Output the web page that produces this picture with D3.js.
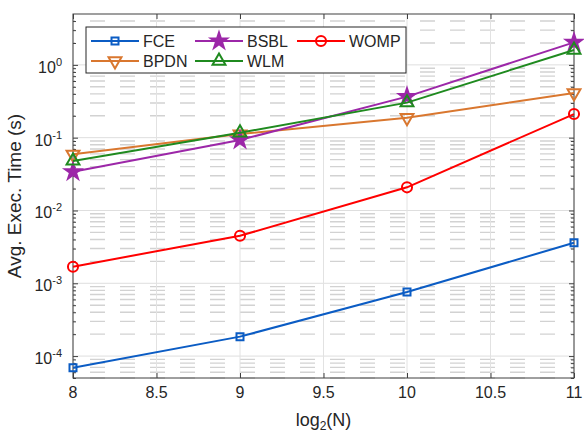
<!DOCTYPE html>
<html>
<head>
<meta charset="utf-8">
<script src="https://cdn.jsdelivr.net/npm/d3@7"></script>
<style>
  body { margin: 0; background: #fff; }
  text { font-family: "Liberation Sans", Arial, sans-serif; fill: #262626; }
</style>
</head>
<body>
<div id="chart"></div>
<script>
var logN   = [8, 9, 10, 11];
var fce    = [6.9e-5, 1.85e-4, 7.6e-4, 3.6e-3];
var bpdn   = [0.059, 0.112, 0.188, 0.41];
var bsbl   = [0.034, 0.093, 0.366, 2.04];
var wlm    = [0.048, 0.117, 0.303, 1.6];
var womp   = [1.69e-3, 4.5e-3, 0.0208, 0.211];
var xTicks = [8, 8.5, 9, 9.5, 10, 10.5, 11];
var yExps  = [-4, -3, -2, -1, 0];

var margin = {top: 14, right: 10, bottom: 57, left: 73},
    width = 584 - margin.left - margin.right,
    height = 435 - margin.top - margin.bottom;

var svg = d3.select("#chart").append("svg")
    .attr("width", 584)
    .attr("height", 435);

var g = svg.append("g")
    .attr("transform", "translate(" + margin.left + "," + margin.top + ")");

var x = d3.scaleLinear().domain([8, 11]).range([0, width]),
    y = d3.scaleLog().domain([5e-5, 5]).range([height, 0]);

// minor values 2..9 x decade inside the domain
var minors = [];
[-5, -4, -3, -2, -1, 0].forEach(function(e) {
  for (var k = 2; k <= 9; k++) {
    var v = k * Math.pow(10, e);
    if (v > 5e-5 && v < 5) minors.push(v);
  }
});
minors.push(5e-5);
var majors = yExps.map(function(e) { return Math.pow(10, e); });

// grid
g.append("g").selectAll("line")
    .data(minors)
    .enter().append("line")
      .attr("x1", 0).attr("x2", width)
      .attr("y1", function(d) { return y(d); })
      .attr("y2", function(d) { return y(d); })
      .attr("stroke", "#d2d2d2")
      .attr("stroke-width", 1.4)
      .attr("stroke-dasharray", "15,15")
      .attr("stroke-dashoffset", -17);

g.append("g").selectAll("line")
    .data(majors)
    .enter().append("line")
      .attr("x1", 0).attr("x2", width)
      .attr("y1", function(d) { return y(d); })
      .attr("y2", function(d) { return y(d); })
      .attr("stroke", "#dedede")
      .attr("stroke-width", 1);

g.append("g").selectAll("line")
    .data(xTicks)
    .enter().append("line")
      .attr("y1", 0).attr("y2", height)
      .attr("x1", function(d) { return x(d); })
      .attr("x2", function(d) { return x(d); })
      .attr("stroke", "#e2e2e2")
      .attr("stroke-width", 1);

// axes (ticks inside, box on)
function styleAxis(sel) {
  sel.selectAll(".domain").remove();
  sel.selectAll("line").attr("stroke", "#404040");
  sel.selectAll("text").remove();
}

g.append("g").attr("transform", "translate(0," + height + ")")
    .call(d3.axisBottom(x).tickValues(xTicks).tickSize(-5)).call(styleAxis);
g.append("g")
    .call(d3.axisTop(x).tickValues(xTicks).tickSize(-5)).call(styleAxis);
g.append("g")
    .call(d3.axisLeft(y).tickValues(majors).tickSize(-5)).call(styleAxis);
g.append("g")
    .call(d3.axisLeft(y).tickValues(minors).tickSize(-3)).call(styleAxis);
g.append("g").attr("transform", "translate(" + width + ",0)")
    .call(d3.axisRight(y).tickValues(majors).tickSize(-5)).call(styleAxis);
g.append("g").attr("transform", "translate(" + width + ",0)")
    .call(d3.axisRight(y).tickValues(minors).tickSize(-3)).call(styleAxis);

g.append("rect")
    .attr("width", width).attr("height", height)
    .attr("fill", "none")
    .attr("stroke", "#404040")
    .attr("stroke-width", 1);

// tick labels
g.append("g").selectAll("text")
    .data(xTicks)
    .enter().append("text")
      .attr("x", function(d) { return x(d); })
      .attr("y", height + 20)
      .attr("text-anchor", "middle")
      .attr("font-size", "16px")
      .text(function(d) { return d; });

var yl = g.append("g").selectAll("text")
    .data(yExps)
    .enter().append("text")
      .attr("x", -11)
      .attr("y", function(d) { return y(Math.pow(10, d)) + 8; })
      .attr("text-anchor", "end")
      .attr("font-size", "16px");
yl.append("tspan").text("10");
yl.append("tspan")
    .attr("dy", -7)
    .attr("font-size", "11px")
    .text(function(d) { return d === 0 ? "0" : "-" + Math.abs(d); });

// axis labels
var xl = svg.append("text")
    .attr("x", margin.left + width / 2)
    .attr("y", 426)
    .attr("text-anchor", "middle")
    .attr("font-size", "18px");
xl.append("tspan").text("log");
xl.append("tspan").attr("dy", 4).attr("font-size", "12px").text("2");
xl.append("tspan").attr("dy", -4).text("(N)");

svg.append("text")
    .attr("transform", "translate(21," + (margin.top + height / 2) + ") rotate(-90)")
    .attr("text-anchor", "middle")
    .attr("font-size", "19px")
    .text("Avg. Exec. Time (s)");

// series
var series = [
  {name: "FCE",  values: fce,  color: "#0b5cc4", symbol: d3.symbolSquare,   size: 49, fill: "none", rot: 0},
  {name: "BPDN", values: bpdn, color: "#d9772f", symbol: d3.symbolTriangle, size: 72, fill: "none", rot: 180},
  {name: "BSBL", values: bsbl, color: "#9c27a8", symbol: d3.symbolStar,     size: 80, fill: "#9c27a8", rot: 0},
  {name: "WLM",  values: wlm,  color: "#1f8a1f", symbol: d3.symbolTriangle, size: 72, fill: "none", rot: 0},
  {name: "WOMP", values: womp, color: "#ff0000", symbol: d3.symbolCircle,   size: 80, fill: "none", rot: 0}
];

var line = d3.line()
    .x(function(d) { return x(d[0]); })
    .y(function(d) { return y(d[1]); });

var sg = g.append("g").selectAll("g")
    .data(series)
    .enter().append("g");

sg.append("path")
    .attr("d", function(s) { return line(d3.zip(logN, s.values)); })
    .attr("fill", "none")
    .attr("stroke", function(s) { return s.color; })
    .attr("stroke-width", 2);

sg.selectAll(".pt")
    .data(function(s) { return s.values.map(function(v, i) { return {s: s, x: logN[i], v: v}; }); })
    .enter().append("path")
      .attr("class", "pt")
      .attr("d", function(d) { return d3.symbol().type(d.s.symbol).size(d.s.size)(); })
      .attr("transform", function(d) { return "translate(" + x(d.x) + "," + y(d.v) + ") rotate(" + d.s.rot + ")"; })
      .attr("fill", function(d) { return d.s.fill; })
      .attr("stroke", function(d) { return d.s.color; })
      .attr("stroke-width", 2);

// legend
var legend = svg.append("g").attr("transform", "translate(86,27)");
legend.append("rect")
    .attr("width", 320).attr("height", 46)
    .attr("fill", "#fff")
    .attr("stroke", "#262626")
    .attr("stroke-width", 1);

var legPos = [[5, 14], [5, 34], [109, 14], [109, 34], [211, 14]];

var li = legend.selectAll(".li")
    .data(series)
    .enter().append("g")
      .attr("class", "li")
      .attr("transform", function(s, i) { return "translate(" + legPos[i][0] + "," + legPos[i][1] + ")"; });

li.append("line")
    .attr("x1", 0).attr("x2", 48)
    .attr("stroke", function(s) { return s.color; })
    .attr("stroke-width", 2);
li.append("path")
    .attr("d", function(s) { return d3.symbol().type(s.symbol).size(s.size)(); })
    .attr("transform", function(s) { return "translate(24,0) rotate(" + s.rot + ")"; })
    .attr("fill", function(s) { return s.fill; })
    .attr("stroke", function(s) { return s.color; })
    .attr("stroke-width", 2);
li.append("text")
    .attr("x", 52)
    .attr("y", 6)
    .attr("font-size", "16px")
    .text(function(s) { return s.name; });
</script>
</body>
</html>
